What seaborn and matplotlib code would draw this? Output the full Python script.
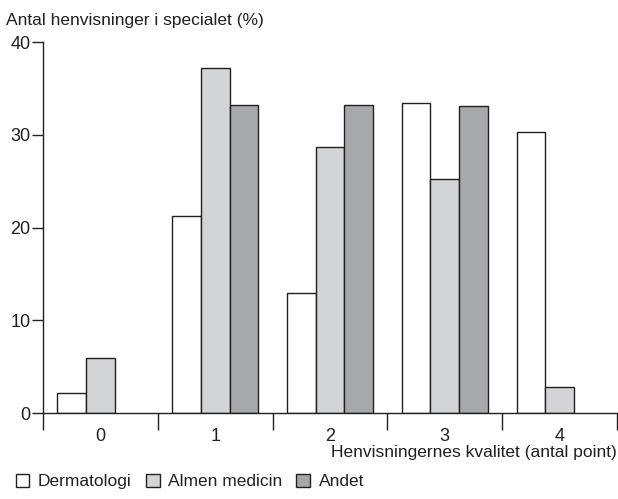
import matplotlib
matplotlib.use("Agg")
import matplotlib.pyplot as plt
import numpy as np
import pandas as pd
import seaborn as sns

kvalitet = ["0", "1", "2", "3", "4"]
specialer = ["Dermatologi", "Almen medicin", "Andet"]
dermatologi = [2.2, 21.2, 12.9, 33.4, 30.3]
almen_medicin = [5.9, 37.2, 28.7, 25.2, 2.8]
andet = [np.nan, 33.2, 33.2, 33.1, np.nan]

colors = {"Dermatologi": "#ffffff", "Almen medicin": "#d3d4d6", "Andet": "#a7a8ab"}
text_color = "#231f20"

rows = []
for name, vals in zip(specialer, [dermatologi, almen_medicin, andet]):
    for k, v in zip(kvalitet, vals):
        rows.append({"Kvalitet": k, "Speciale": name, "Pct": v})
df = pd.DataFrame(rows)

sns.set_style("white")
plt.rcParams["font.family"] = ["Liberation Sans", "DejaVu Sans"]
plt.rcParams["text.color"] = text_color
plt.rcParams["xtick.color"] = text_color
plt.rcParams["ytick.color"] = text_color

fs = 12.5
fig = plt.figure(figsize=(6.18, 4.99), dpi=100)
ax = fig.add_axes([43 / 618, 86 / 499, 574 / 618, 371 / 499])

sns.barplot(
    data=df, x="Kvalitet", y="Pct", hue="Speciale",
    order=kvalitet, hue_order=specialer, palette=colors,
    width=0.75, edgecolor="#231f20", linewidth=1.0, saturation=1, ax=ax,
)

ax.set_xlim(-0.5, 4.5)
ax.set_ylim(0, 40)
ax.set_yticks([0, 10, 20, 30, 40])
ax.tick_params(axis="y", direction="out", length=8, width=1, labelsize=13, pad=1, left=True)

ax.set_xticks(np.arange(-0.5, 5.0, 1.0))
ax.set_xticklabels([])
ax.tick_params(axis="x", which="major", direction="out", length=12, width=1, bottom=True)
ax.set_xticks(np.arange(0, 5), minor=True)
ax.set_xticklabels(kvalitet, minor=True)
ax.tick_params(axis="x", which="minor", length=0, labelsize=13, pad=11)

for side in ["top", "right"]:
    ax.spines[side].set_visible(False)
for side in ["left", "bottom"]:
    ax.spines[side].set_color("#231f20")
    ax.spines[side].set_linewidth(1)

ax.set_xlabel("")
ax.set_ylabel("")
fig.text(0.998, (499 - 453) / 499, "Henvisningernes kvalitet (antal point)",
         ha="right", va="center", fontsize=fs)
fig.text(6 / 618, (499 - 20) / 499, "Antal henvisninger i specialet (%)",
         ha="left", va="center", fontsize=fs)

handles, labels = ax.get_legend_handles_labels()
ax.get_legend().remove()
fig.legend(handles, labels, loc="lower left", bbox_to_anchor=(6 / 618, 0.0), ncol=3,
           frameon=False, handlelength=0.8, handleheight=0.8, handletextpad=0.5,
           columnspacing=0.8, borderaxespad=0.15, fontsize=fs)

fig.savefig("out.png", dpi=100)
